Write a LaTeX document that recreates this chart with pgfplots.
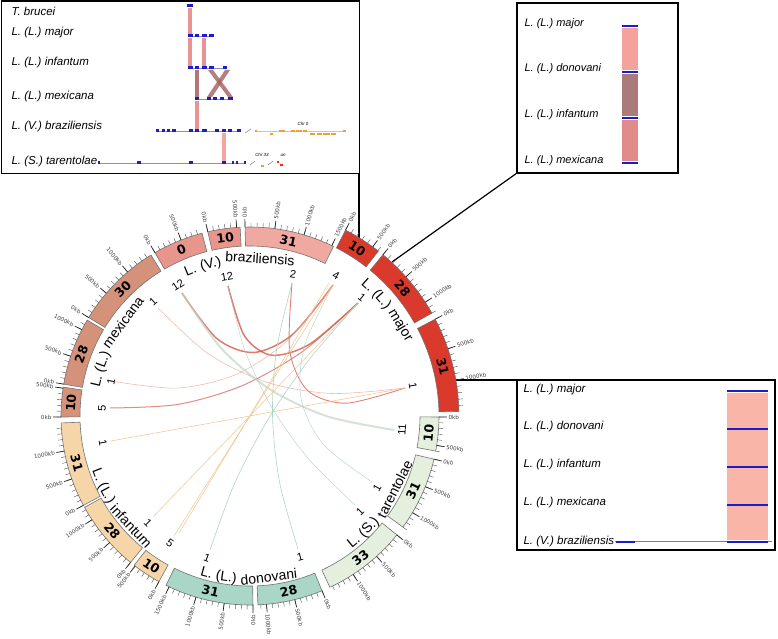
\documentclass[border=0pt]{standalone}
\usepackage{pgfplots}
\pgfplotsset{compat=1.18}
\usepackage{fontspec}
\setmainfont{Liberation Sans}
\newfontfamily\dejavu{DejaVu Sans}

\definecolor{cbraz}{HTML}{E8958B}
\definecolor{cbrazl}{HTML}{F0A9A0}
\definecolor{cmaj}{HTML}{D93A2B}
\definecolor{cmex}{HTML}{D5927A}
\definecolor{cinf}{HTML}{F6D6A8}
\definecolor{cdon}{HTML}{A9D6C6}
\definecolor{ctar}{HTML}{E4EFDE}
\definecolor{lblue}{HTML}{1C1CC8}
\definecolor{lgrayb}{HTML}{8C8CC8}
\definecolor{corange}{HTML}{F0A030}
\definecolor{bandA}{HTML}{E89494}
\definecolor{bandD}{HTML}{A35F5F}
\definecolor{bandL}{HTML}{F2A8A0}
\definecolor{bandS}{HTML}{F4A39C}
\definecolor{bandM}{HTML}{A97B7B}
\definecolor{bandR}{HTML}{E38B8B}
\definecolor{bandP}{HTML}{F9B5A7}
\definecolor{chR}{HTML}{D65A4A}
\definecolor{chRl}{HTML}{E8A090}
\definecolor{chO}{HTML}{F2C48E}
\definecolor{chG}{HTML}{A8CFC0}
\definecolor{chT}{HTML}{C2D6C6}

\newcommand{\chrfont}{\dejavu\bfseries\fontsize{12.5}{12.5}\selectfont}
\newcommand{\ticklabfont}{\dejavu\fontsize{5.6}{5.6}\selectfont}
\newcommand{\numfont}{\fontsize{11}{11}\selectfont}
\newcommand{\splfont}{\fontsize{14}{14}\selectfont}
\newcommand{\insfont}{\itshape\fontsize{11.5}{12}\selectfont}

\tikzset{tickR/.style={anchor=west, rotate={90-(#1)}},
         tickL/.style={anchor=east, rotate={270-(#1)}}}

% #1 start phi, #2 end phi (clockwise from top), #3 colour, #4 label,
% #5 length kb, #6 number of 100kb ticks, #7 major tick list, #8 label rotation, #9 side
\newcommand{\chrseg}[9]{%
  \path[fill=#3, draw=black!55, line width=0.6pt]
    ([shift={({90-(#1)}:189pt)}]C)
    arc[start angle={90-(#1)}, end angle={90-(#2)}, radius=189pt]
    -- ([shift={({90-(#2)}:170pt)}]C)
    arc[start angle={90-(#2)}, end angle={90-(#1)}, radius=170pt]
    -- cycle;
  \path ([shift={({90-((#1)+(#2))/2}:179.5pt)}]C) node[rotate=#8, font=\chrfont, inner sep=0pt] {#4};
  \pgfplotsinvokeforeach{0,...,#6}{%
    \draw[black!70, line width=0.4pt]
      ([shift={({90-((#1)+((#2)-(#1))*##1/(#5)*100)}:189pt)}]C) --
      ([shift={({90-((#1)+((#2)-(#1))*##1/(#5)*100)}:193.5pt)}]C);
  }%
  \pgfplotsinvokeforeach{#7}{%
    \draw[black!85, line width=0.7pt]
      ([shift={({90-((#1)+((#2)-(#1))*##1/(#5)*100)}:189pt)}]C) --
      ([shift={({90-((#1)+((#2)-(#1))*##1/(#5)*100)}:197pt)}]C);
    \path ([shift={({90-((#1)+((#2)-(#1))*##1/(#5)*100)}:198pt)}]C)
      node[tick#9={(#1)+((#2)-(#1))*##1/(#5)*100}, font=\ticklabfont, inner sep=0.5pt, text=black!75] {\the\numexpr##1*100\relax kb};
  }%
}
% the same for the highlighted L. major chromosomes, set one ring further out
\newcommand{\chrsegM}[8]{%
  \path[fill=#3, draw=black!55, line width=0.6pt]
    ([shift={({90-(#1)}:209pt)}]C)
    arc[start angle={90-(#1)}, end angle={90-(#2)}, radius=209pt]
    -- ([shift={({90-(#2)}:189pt)}]C)
    arc[start angle={90-(#2)}, end angle={90-(#1)}, radius=189pt]
    -- cycle;
  \path ([shift={({90-((#1)+(#2))/2}:199pt)}]C) node[rotate=#8, font=\chrfont, inner sep=0pt] {#4};
  \pgfplotsinvokeforeach{0,...,#6}{%
    \draw[black!70, line width=0.4pt]
      ([shift={({90-((#1)+((#2)-(#1))*##1/(#5)*100)}:209pt)}]C) --
      ([shift={({90-((#1)+((#2)-(#1))*##1/(#5)*100)}:213.5pt)}]C);
  }%
  \pgfplotsinvokeforeach{#7}{%
    \draw[black!85, line width=0.7pt]
      ([shift={({90-((#1)+((#2)-(#1))*##1/(#5)*100)}:209pt)}]C) --
      ([shift={({90-((#1)+((#2)-(#1))*##1/(#5)*100)}:217pt)}]C);
    \path ([shift={({90-((#1)+((#2)-(#1))*##1/(#5)*100)}:218pt)}]C)
      node[tickR={(#1)+((#2)-(#1))*##1/(#5)*100}, font=\ticklabfont, inner sep=0.5pt, text=black!75] {\the\numexpr##1*100\relax kb};
  }%
}
% words of the species names, set along the inner side of the ring
\newcommand{\wordT}[2]{\path ([shift={({90-(#1)}:153pt)}]C) node[anchor=base, rotate={-(#1)}, font=\splfont, inner sep=0pt] {#2};}
\newcommand{\wordM}[2]{\path ([shift={({90-(#1)}:172pt)}]C) node[anchor=base, rotate={-(#1)}, font=\splfont, inner sep=0pt] {#2};}
\newcommand{\wordB}[2]{\path ([shift={({90-(#1)}:167pt)}]C) node[anchor=base, rotate={180-(#1)}, font=\splfont, inner sep=0pt] {#2};}

\begin{document}
\begin{tikzpicture}
\begin{axis}[name=main, x=1pt, y=1pt, xmin=0, xmax=778, ymin=0, ymax=638,
  hide axis, clip=false, unbounded coords=jump]
\coordinate (C) at (axis cs:250,222);

% ---------------- top-left inset ----------------
\draw[black, line width=1.2pt] (axis cs:1.5,464.5) rectangle (axis cs:359.5,637);
\node[anchor=west, font=\insfont] at (axis cs:8,627) {T. brucei};
\node[anchor=west, font=\insfont] at (axis cs:8,605) {L. (L.) major};
\node[anchor=west, font=\insfont] at (axis cs:8,575) {L. (L.) infantum};
\node[anchor=west, font=\insfont] at (axis cs:8,541) {L. (L.) mexicana};
\node[anchor=west, font=\insfont] at (axis cs:8,511) {L. (V.) braziliensis};
\node[anchor=west, font=\insfont] at (axis cs:8,476) {L. (S.) tarentolae};
% links
\addplot[fill=bandA, draw=none] coordinates {(188,630)(192,630)(192,604)(188,604)};
\addplot[fill=bandA, draw=none] coordinates {(188,600)(192,600)(192,572)(188,572)};
\addplot[fill=bandA, draw=none] coordinates {(202,600)(206,600)(206,572)(202,572)};
\addplot[fill=bandD, draw=none, opacity=0.85] coordinates {(195,568)(199,568)(199,541)(195,541)};
\addplot[fill=bandD, draw=none, opacity=0.8] coordinates {(208,568)(213,568)(233,541)(228,541)};
\addplot[fill=bandD, draw=none, opacity=0.8] coordinates {(225,568)(230,568)(212,541)(207,541)};
\addplot[fill=bandA, draw=none] coordinates {(195,537)(199,537)(199,509)(195,509)};
\addplot[fill=bandL, draw=none] coordinates {(222,505)(226,505)(226,477)(222,477)};
% baselines
\addplot[lgrayb, line width=0.5pt] coordinates {(188,602)(214,602)};
\addplot[lgrayb, line width=0.5pt] coordinates {(188,570)(227,570)};
\addplot[lgrayb, line width=0.5pt] coordinates {(195,539)(233,539)};
\addplot[lgrayb, line width=0.5pt] coordinates {(156,507)(241,507)};
\addplot[lgrayb, line width=0.5pt] coordinates {(98,475)(246,475)};
\addplot[corange!70, line width=0.5pt] coordinates {(255,507)(345,507)};
\addplot[lgrayb, line width=0.6pt] coordinates {(245,505)(251,509)};
\addplot[lgrayb, line width=0.6pt] coordinates {(250,473)(255,477)};
\addplot[lgrayb, line width=0.6pt] coordinates {(268,473)(273,477)};
% blocks
\addplot[lblue, line width=3pt] coordinates {(187,632)(193,632)};
\addplot[lblue, line width=3pt] coordinates {(188,602)(193,602) (nan,nan) (195,602)(199,602) (nan,nan) (202,602)(207,602) (nan,nan) (209,602)(214,602)};
\addplot[lblue, line width=3pt] coordinates {(188,570)(193,570) (nan,nan) (195,570)(199,570) (nan,nan) (202,570)(207,570) (nan,nan) (209,570)(214,570) (nan,nan) (223,570)(227,570)};
\addplot[lblue, line width=3pt] coordinates {(195,539)(199,539) (nan,nan) (207,539)(211,539) (nan,nan) (213,539)(217,539) (nan,nan) (220,539)(224,539) (nan,nan) (228,539)(233,539)};
\addplot[lblue, line width=3pt] coordinates {(156,507)(159,507) (nan,nan) (162,507)(165,507) (nan,nan) (167,507)(170,507) (nan,nan) (172,507)(176,507) (nan,nan) (189,507)(193,507) (nan,nan) (195,507)(199,507) (nan,nan) (202,507)(207,507) (nan,nan) (215,507)(219,507) (nan,nan) (222,507)(226,507) (nan,nan) (228,507)(232,507) (nan,nan) (237,507)(241,507)};
\addplot[lblue, line width=3pt] coordinates {(98,475)(100,475) (nan,nan) (137,475)(141,475) (nan,nan) (189,475)(193,475) (nan,nan) (222,475)(226,475) (nan,nan) (232,475)(234,475) (nan,nan) (236,475)(238,475) (nan,nan) (244,475)(246,475)};
\addplot[corange, line width=2pt] coordinates {(255,507)(257,507) (nan,nan) (279,507)(285,507) (nan,nan) (291,507)(295,507) (nan,nan) (296,507)(302,507) (nan,nan) (303,507)(307,507) (nan,nan) (343,507)(346,507)};
\addplot[corange, line width=2pt] coordinates {(270,504)(273,504) (nan,nan) (310,504)(315,504) (nan,nan) (317,504)(322,504) (nan,nan) (323,504)(330,504) (nan,nan) (331,504)(336,504)};
\addplot[corange, line width=2pt] coordinates {(261,472)(264,472)};
\addplot[red!70!orange, line width=1.5pt] coordinates {(277,476)(279,476) (nan,nan) (280,473)(283,473)};
\node[font=\itshape\fontsize{4.5}{5}\selectfont] at (axis cs:303,514) {Chr 0};
\node[font=\itshape\fontsize{4.5}{5}\selectfont] at (axis cs:262,483) {Chr 33};
\node[font=\itshape\fontsize{4.5}{5}\selectfont] at (axis cs:283,483) {un};

% ---------------- top-right inset ----------------
\draw[black, line width=1.2pt] (axis cs:517,465) rectangle (axis cs:678,635);
\node[anchor=west, font=\itshape\fontsize{11}{12}\selectfont] at (axis cs:521,614) {L. (L.) major};
\node[anchor=west, font=\itshape\fontsize{11}{12}\selectfont] at (axis cs:521,569) {L. (L.) donovani};
\node[anchor=west, font=\itshape\fontsize{11}{12}\selectfont] at (axis cs:521,523) {L. (L.) infantum};
\node[anchor=west, font=\itshape\fontsize{11}{12}\selectfont] at (axis cs:521,477) {L. (L.) mexicana};
\addplot[fill=bandS, draw=none] coordinates {(622,610)(638,610)(638,568)(622,568)};
\addplot[fill=bandM, draw=none] coordinates {(622,564)(638,564)(638,522)(622,522)};
\addplot[fill=bandR, draw=none] coordinates {(622,518)(638,518)(638,477)(622,477)};
\addplot[lblue, line width=2pt] coordinates {(622,612)(638,612) (nan,nan) (622,566)(638,566) (nan,nan) (622,520)(638,520) (nan,nan) (622,475)(638,475)};

% ---------------- bottom-right inset ----------------
\draw[black, line width=1.2pt] (axis cs:517,88) rectangle (axis cs:775,258);
\node[anchor=west, font=\insfont] at (axis cs:520,248) {L. (L.) major};
\node[anchor=west, font=\insfont] at (axis cs:520,211) {L. (L.) donovani};
\node[anchor=west, font=\insfont] at (axis cs:520,173) {L. (L.) infantum};
\node[anchor=west, font=\insfont] at (axis cs:520,135) {L. (L.) mexicana};
\node[anchor=west, font=\insfont] at (axis cs:520,96) {L. (V.) braziliensis};
\addplot[fill=bandP, draw=none] coordinates {(727,245)(768,245)(768,98)(727,98)};
\addplot[gray, line width=0.5pt] coordinates {(615,97)(772,97)};
\addplot[lblue, line width=2pt] coordinates {(727,247)(768,247) (nan,nan) (727,209)(768,209) (nan,nan) (727,171)(768,171) (nan,nan) (727,133)(768,133) (nan,nan) (727,96)(768,96) (nan,nan) (616,96)(635,96)};

% ---------------- connectors ----------------
\addplot[black, line width=1.2pt] coordinates {(359,465)(359,384)};
\addplot[black, line width=1.2pt] coordinates {(517,465)(392,376)};
\addplot[black, line width=1.2pt] coordinates {(437,258)(517,258)};

% ---------------- chords ----------------
\addplot[smooth, chR, opacity=0.8, line width=1.5pt] coordinates {(182,345)(216.9,299.4)(253.8,285.5)(292.4,303.4)(333,353)};
\addplot[smooth, chR, opacity=0.8, line width=1.5pt] coordinates {(228,352)(244.4,302.2)(271.5,282.8)(309.4,293.7)(358,335)};
\addplot[smooth, chR, opacity=0.75, line width=0.9pt] coordinates {(292,355)(289.7,287.3)(307.8,247.3)(346.2,234.8)(405,250)};
\addplot[smooth, chRl, opacity=0.7, line width=0.6pt] coordinates {(158,330)(207.9,284.5)(265.8,256)(331.4,244.5)(405,250)};
\addplot[smooth, chRl, opacity=0.7, line width=0.6pt] coordinates {(111,257)(177,249.9)(236,263.5)(288,297.9)(333,353)};
\addplot[smooth, chR, opacity=0.7, line width=1pt] coordinates {(110,230)(178,233.6)(242,252.3)(302,286.1)(358,335)};
\addplot[smooth, chO, opacity=0.9, line width=0.6pt] coordinates {(111,197)(181.5,209.7)(254,222.8)(328.5,236.2)(405,250)};
\addplot[smooth, chO, opacity=0.9, line width=0.6pt] coordinates {(153,121)(202.2,172.3)(252.8,225)(304.7,279.3)(358,335)};
\addplot[smooth, chO, opacity=0.9, line width=0.6pt] coordinates {(174,102)(212.4,162.7)(251.8,224.8)(291.9,288.2)(333,353)};
\addplot[smooth, chO, opacity=0.9, line width=0.6pt] coordinates {(179,105)(215,164.5)(252,226)(290,289.5)(329,355)};
\addplot[smooth, chG, opacity=0.9, line width=0.6pt] coordinates {(210,88)(234.2,153.7)(267,216.8)(308.2,277.2)(358,335)};
\addplot[smooth, chG, opacity=0.9, line width=0.6pt] coordinates {(298,89)(279.6,155.5)(272.5,222)(276.6,288.5)(292,355)};
\addplot[smooth, chT, opacity=0.7, line width=2pt] coordinates {(394,208)(326.7,221.8)(269,249.3)(220.7,290.3)(182,345)};
\addplot[smooth, chG, opacity=0.8, line width=0.5pt] coordinates {(372,156)(323.8,193.1)(301.3,238.3)(304.3,291.6)(333,353)};
\addplot[smooth, chG, opacity=0.8, line width=0.5pt] coordinates {(355,133)(307.7,180.1)(270.8,232.3)(244.2,289.6)(228,352)};

% ---------------- link counts ----------------
\node[rotate=33, font=\numfont] at (axis cs:178,353) {12};
\node[rotate=10, font=\numfont] at (axis cs:227,361) {12};
\node[rotate=-10, font=\numfont] at (axis cs:293,364) {2};
\node[rotate=-28, font=\numfont] at (axis cs:336,362) {4};
\node[rotate=-40, font=\numfont] at (axis cs:362,340) {1};
\node[rotate=-80, font=\numfont] at (axis cs:413,252) {1};
\node[rotate=86, font=\numfont] at (axis cs:402,208) {11};
\node[rotate=60, font=\numfont] at (axis cs:377,150) {1};
\node[rotate=45, font=\numfont] at (axis cs:360,126) {1};
\node[rotate=15, font=\numfont] at (axis cs:300,81) {1};
\node[rotate=-20, font=\numfont] at (axis cs:207,80) {1};
\node[rotate=-35, font=\numfont] at (axis cs:170,95) {5};
\node[rotate=-45, font=\numfont] at (axis cs:148,115) {1};
\node[rotate=-80, font=\numfont] at (axis cs:103,195) {1};
\node[rotate=88, font=\numfont] at (axis cs:102,230) {5};
\node[rotate=77, font=\numfont] at (axis cs:111,256) {1};
\node[rotate=42, font=\numfont] at (axis cs:153,336) {1};

% ---------------- ideograms ----------------
\chrseg{329.8}{345.3}{cbraz}{0}{880}{8}{0,5}{22.5}{L}
\chrseg{347.1}{357}{cbraz}{10}{560}{5}{0,5}{8}{L}
\chrseg{358.5}{386.2}{cbrazl}{31}{1530}{15}{0,5,10,15}{-12.4}{R}
\chrsegM{27.2}{37.9}{cmaj}{10}{610}{6}{0,5}{-32.6}
\chrsegM{39.5}{60.5}{cmaj}{28}{1200}{12}{0,5,10}{-50}
\chrsegM{62.4}{88.75}{cmaj}{31}{1490}{14}{0,5,10}{-75.6}
\chrseg{90.3}{100.7}{ctar}{10}{600}{6}{0,5}{84.5}{R}
\chrseg{103.2}{126}{ctar}{31}{1300}{13}{0,5,10}{65.4}{R}
\chrseg{129}{155}{ctar}{33}{1450}{14}{0,5,10}{38}{R}
\chrseg{157.6}{177.6}{cdon}{28}{1150}{11}{0,5,10}{12.4}{R}
\chrseg{179.1}{206.4}{cdon}{31}{1560}{15}{0,5,10,15}{-12.8}{L}
\chrseg{208.8}{217.8}{cinf}{10}{520}{5}{0,5}{-33.3}{L}
\chrseg{219.2}{241.1}{cinf}{28}{1250}{12}{0,5,10}{-50.2}{L}
\chrseg{241.8}{267.9}{cinf}{31}{1490}{14}{0,5,10}{-74.9}{L}
\chrseg{269.7}{278.8}{cmex}{10}{520}{5}{0,5}{85.8}{L}
\chrseg{279.7}{300.5}{cmex}{28}{1190}{11}{0,5,10}{69.9}{L}
\chrseg{301.4}{328.4}{cmex}{30}{1480}{14}{0,5,10}{45.1}{L}

% ---------------- species names ----------------
\wordT{337.78}{L.}\wordT{345.45}{(V.)}\wordT{363.62}{braziliensis}
\wordM{41.92}{L.}\wordM{48.51}{(L.)}\wordM{58.9}{major}
\wordT{282.82}{L.}\wordT{290.2}{(L.)}\wordT{306.38}{mexicana}
\wordB{248.8}{L.}\wordB{241.68}{(L.)}\wordB{227.19}{infantum}
\wordB{195.5}{L.}\wordB{188.38}{(L.)}\wordB{173.34}{donovani}
\wordB{140.48}{L.}\wordB{133.09}{(S.)}\wordB{116.81}{tarentolae}
\end{axis}
\pgfresetboundingbox
\path (main.south west) rectangle (main.north east);
\end{tikzpicture}
\end{document}
